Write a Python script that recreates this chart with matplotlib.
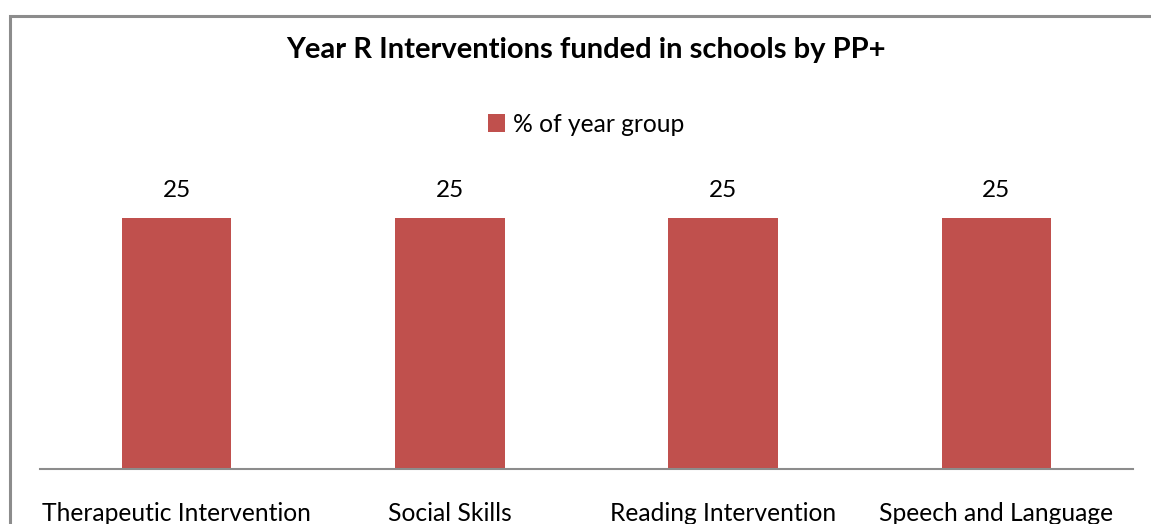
import matplotlib.pyplot as plt
from matplotlib.patches import Rectangle

categories = ['Therapeutic Intervention', 'Social Skills', 'Reading Intervention', 'Speech and Language']
pct_of_year = [25, 25, 25, 25]
series_name = '% of year group'
title = 'Year R Interventions funded in schools by PP+'

bar_color = '#C0504D'
plt.rcParams['font.family'] = ['Lato', 'DejaVu Sans']

W, H = 1151, 524
fig = plt.figure(figsize=(W / 100, H / 100), dpi=100)

# outer chart frame (runs off the right and bottom edges)
fig.patches.append(Rectangle((9.5 / W, -0.1), 1.2, 1 - 15.5 / H + 0.1,
                             transform=fig.transFigure, fill=False,
                             edgecolor='#8c8c8c', linewidth=2.2))

ax = fig.add_axes([40 / W, 55 / H, 1093 / W, (469 - 167.8) / H])
x = range(len(categories))
bars = ax.bar(x, pct_of_year, width=0.4, color=bar_color, label=series_name)
ax.set_xlim(-0.5, len(categories) - 0.5)
ax.set_ylim(0, 30)
ax.bar_label(bars, padding=12, fontsize=17.5)

for s in ['top', 'right', 'left']:
    ax.spines[s].set_visible(False)
ax.spines['bottom'].set_color('#8c8c8c')
ax.spines['bottom'].set_linewidth(1.5)
ax.set_yticks([])
ax.set_xticks(list(x))
ax.set_xticklabels(categories, fontsize=17.7)
ax.tick_params(axis='x', length=0, pad=24)

fig.text(586 / W, 1 - 50 / H, title, ha='center', va='center',
         fontsize=21, fontweight='bold')
fig.legend(loc='center', bbox_to_anchor=(586 / W, 1 - 124 / H), frameon=False,
           fontsize=17.7, handlelength=0.7, handleheight=0.7, handletextpad=0.3)

fig.savefig('out.png', dpi=100)
